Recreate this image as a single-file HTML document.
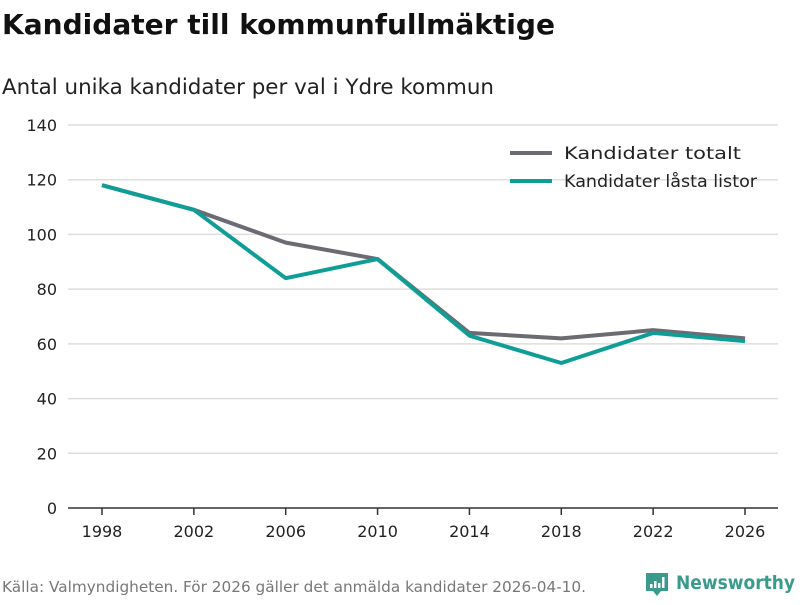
<!DOCTYPE html>
<html><head><meta charset="utf-8"><style>
body{margin:0;background:#fff;}
svg text{font-family:"DejaVu Sans","Liberation Sans",sans-serif;}
</style></head><body>
<svg width="800" height="600" xmlns="http://www.w3.org/2000/svg">
<text x="2" y="34" font-size="28" font-weight="bold" fill="#111" textLength="553" lengthAdjust="spacingAndGlyphs">Kandidater till kommunfullmäktige</text>
<text x="2" y="94" font-size="21" fill="#222" textLength="492" lengthAdjust="spacingAndGlyphs">Antal unika kandidater per val i Ydre kommun</text>
<g id="grid"></g>
<g id="yticks"></g>
<g id="xticks"></g>
<g id="lines"></g>
<g>
<g><line x1="510" y1="153" x2="552" y2="153" stroke="#6c6a72" stroke-width="4"/><text x="564" y="159" font-size="17" fill="#222" textLength="177" lengthAdjust="spacingAndGlyphs">Kandidater totalt</text></g>
<g><line x1="510" y1="181" x2="552" y2="181" stroke="#0f9e96" stroke-width="4"/><text x="564" y="187" font-size="17" fill="#222" textLength="193" lengthAdjust="spacingAndGlyphs">Kandidater låsta listor</text></g>
</g>
<text x="2" y="592" font-size="15" fill="#777" textLength="584" lengthAdjust="spacingAndGlyphs">Källa: Valmyndigheten. För 2026 gäller det anmälda kandidater 2026-04-10.</text>
<g>
<path d="M646 573 h22 v18 h-7 l-4 5 l-4 -5 h-7 z" fill="#3a9a8c"/>
<rect x="650" y="584" width="2.5" height="4" fill="#fff"/><rect x="654" y="581" width="2.5" height="7" fill="#fff"/><rect x="658" y="583" width="2.5" height="5" fill="#fff"/><rect x="662" y="577" width="2.5" height="11" fill="#fff"/>
<text x="676" y="589" font-size="19" font-weight="bold" fill="#3a9a8c" textLength="119" lengthAdjust="spacingAndGlyphs">Newsworthy</text>
</g>
</svg>
<script>
const years=["1998","2002","2006","2010","2014","2018","2022","2026"];
const totalt=[118,109,97,91,64,62,65,62];
const lasta=[118,109,84,91,63,53,64,61];
const yTicks=[0,20,40,60,80,100,120,140];
const NS="http://www.w3.org/2000/svg";
const x=i=>102+i*(745-102)/(years.length-1);
const y=v=>508-v*(383/140);
function mk(t,a,p){const e=document.createElementNS(NS,t);for(const k in a)e.setAttribute(k,a[k]);p.appendChild(e);return e;}
const g=document.getElementById('grid'),yt=document.getElementById('yticks'),xt=document.getElementById('xticks'),ln=document.getElementById('lines');
yTicks.forEach(v=>{
 const l=mk('line',{x1:68,x2:778,y1:y(v),y2:y(v),stroke:v===0?'#333':'#ddd','stroke-width':1.5},g);
 
 
 const t=mk('text',{x:57,y:y(v)+6,'font-size':16,fill:'#222','text-anchor':'end'},yt);t.textContent=v;
 
 
});
years.forEach((yr,i)=>{
 const tk=mk('line',{x1:x(i),x2:x(i),y1:508,y2:515,stroke:'#333','stroke-width':1.5},xt);
 
 
 const t=mk('text',{x:x(i),y:537,'font-size':16,fill:'#222','text-anchor':'middle'},xt);t.textContent=yr;
 
 
});
function line(data,color,name){
 const p=mk('polyline',{points:data.map((v,i)=>x(i)+','+y(v)).join(' '),fill:'none',stroke:color,'stroke-width':4,'stroke-linejoin':'round'},ln);
 
 
}
line(totalt,'#6c6a72','line-kandidater-totalt');
line(lasta,'#0f9e96','line-kandidater-lasta-listor');
</script>
</body></html>
